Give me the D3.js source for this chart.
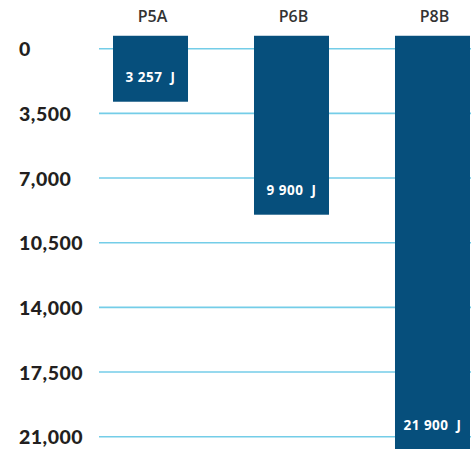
<!DOCTYPE html>
<html>
<head>
<meta charset="utf-8">
<script src="https://cdn.jsdelivr.net/npm/d3@7"></script>
<style>
  html, body { margin: 0; padding: 0; background: #ffffff; }
  svg { display: block; }
</style>
</head>
<body>
<svg id="chart" width="471" height="449"></svg>
<script>
// ---- data ----
const categories = ["P5A", "P6B", "P8B"];
const energyValues = [3257, 9900, 21900];       // printed values (J)
const barEnds = [2870, 8985, 21700];            // where each drawn bar ends on the axis
const barStart = -700;                          // bars begin slightly above the 0 line
const tickValues = [0, 3500, 7000, 10500, 14000, 17500, 21000];

// ---- layout ----
const W = 471, H = 449;
const svg = d3.select("#chart");

const y = d3.scaleLinear().domain([0, 21000]).range([48.7, 436.7]);
const x = d3.scaleBand().domain(categories).range([113, 470])
  .paddingInner(0.468).paddingOuter(0);

const tickFmt = d3.format(",");
const energyFmt = v => d3.format(",")(v).replace(/,/g, " ") + "\u00a0\u00a0J";

// gridlines
svg.append("g").selectAll("line").data(tickValues).join("line")
  .attr("x1", 99).attr("x2", W)
  .attr("y1", d => y(d)).attr("y2", d => y(d))
  .attr("stroke", "#74cde8").attr("stroke-width", 1.6);

// tick labels
svg.append("g").selectAll("text").data(tickValues).join("text")
  .attr("x", 19).attr("y", d => y(d) + 7.5)
  .attr("font-family", "Lato, 'Open Sans', sans-serif")
  .attr("font-weight", 900)
  .attr("font-size", 19.5)
  .attr("letter-spacing", 0.5)
  .attr("fill", "#231f20")
  .text(d => tickFmt(d));

// bars
const bars = categories.map((c, i) => ({ c, v: energyValues[i], end: barEnds[i] }));
svg.append("g").selectAll("rect").data(bars).join("rect")
  .attr("x", d => x(d.c))
  .attr("width", x.bandwidth())
  .attr("y", y(barStart))
  .attr("height", d => y(d.end) - y(barStart))
  .attr("fill", "#064f7c");

// value labels inside bars
svg.append("g").selectAll("text").data(bars).join("text")
  .attr("x", d => x(d.c) + x.bandwidth() / 2)
  .attr("y", d => y(d.end) - 20)
  .attr("text-anchor", "middle")
  .attr("font-family", "'Open Sans', Lato, sans-serif")
  .attr("font-weight", 700)
  .attr("font-size", 13.5)
  .attr("letter-spacing", 0.5)
  .attr("fill", "#ffffff")
  .attr("xml:space", "preserve")
  .text(d => energyFmt(d.v));

// category labels
svg.append("g").selectAll("text").data(categories).join("text")
  .attr("x", d => x(d) + x.bandwidth() / 2 + 2)
  .attr("y", 22)
  .attr("text-anchor", "middle")
  .attr("font-family", "'Open Sans', Lato, sans-serif")
  .attr("font-weight", 600)
  .attr("font-size", 16)
  .attr("fill", "#333333")
  .text(d => d);
</script>
</body>
</html>
